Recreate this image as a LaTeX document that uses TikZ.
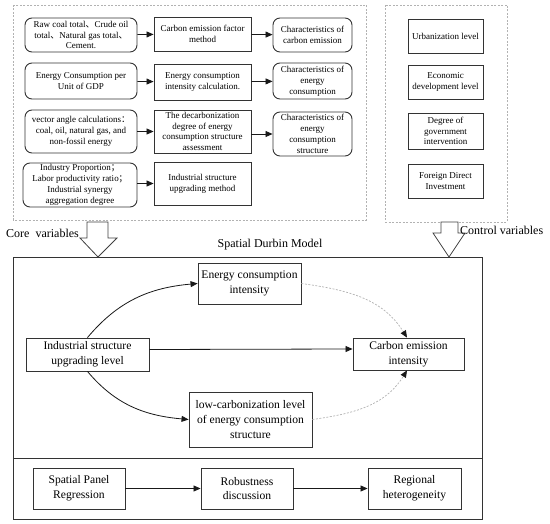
\documentclass[tikz,border=0pt]{standalone}
\usepackage{fontspec}
\setmainfont{Liberation Serif}
\newfontfamily\cjk{Noto Sans CJK SC}
\usetikzlibrary{arrows.meta}
\begin{document}
\begin{tikzpicture}[x=1pt,y=-1pt,
  every node/.style={text=black},
  sbox/.style={draw=black!80, line width=0.9pt, align=center, inner sep=1pt,
    font=\fontsize{9}{10.8}\selectfont},
  rbox/.style={sbox, rounded corners=7pt},
  mbox/.style={sbox, font=\fontsize{11.6}{14.8}\selectfont},
  lab/.style={font=\fontsize{12}{14}\selectfont, inner sep=0pt},
  arr/.style={-{Triangle[length=7pt,width=6pt]}, draw=black!90, line width=0.8pt},
  darr/.style={-{Triangle[length=7pt,width=6pt,color=black!90]}, draw=gray!60, dash pattern=on 2pt off 1.5pt, line width=0.7pt},
  dbox/.style={draw=gray!60, line width=0.7pt, dash pattern=on 2pt off 1.5pt},
  hollow/.style={draw=black!75, fill=white, line width=0.8pt}
]
\useasboundingbox (0,0) rectangle (550,524);

% dashed boxes
\draw[dbox] (13,5) rectangle (366,220);
\draw[dbox] (385,5) rectangle (507,222);

% top-left rows
\node[rbox, minimum width=112pt, minimum height=34pt] (r1a) at (81,35)
  {Raw coal total{\cjk 、}Crude oil\\total{\cjk 、}Natural gas total{\cjk 、}\\Cement.};
\node[sbox, minimum width=97pt, minimum height=34pt] (r1b) at (202.5,34)
  {Carbon emission factor\\method};
\node[rbox, minimum width=79pt, minimum height=34pt] (r1c) at (312.5,35)
  {Characteristics of\\carbon emission};

\node[rbox, minimum width=112pt, minimum height=36pt] (r2a) at (81,81)
  {Energy Consumption per\\Unit of GDP};
\node[sbox, minimum width=97pt, minimum height=36pt] (r2b) at (202.5,82)
  {Energy consumption\\intensity calculation.};
\node[rbox, minimum width=79pt, minimum height=36pt] (r2c) at (312.5,81)
  {Characteristics of\\energy\\consumption};

\node[rbox, minimum width=112pt, minimum height=43pt] (r3a) at (81,131.5)
  {vector angle calculations{\cjk ：}\\coal, oil, natural gas, and\\non-fossil energy};
\node[sbox, minimum width=97pt, minimum height=43pt] (r3b) at (202.5,131.5)
  {The decarbonization\\degree of energy\\consumption structure\\assessment};
\node[rbox, minimum width=79pt, minimum height=44pt] (r3c) at (312.5,134)
  {Characteristics of\\energy\\consumption\\structure};

\node[rbox, minimum width=114pt, minimum height=44pt] (r4a) at (80,185)
  {Industry Proportion{\cjk ；}\\Labor productivity ratio{\cjk ；}\\Industrial synergy\\aggregation degree};
\node[sbox, minimum width=97pt, minimum height=43pt] (r4b) at (202.5,183.5)
  {Industrial structure\\upgrading method};

\draw[arr] (r1a) -- (r1b);
\draw[arr] (r1b) -- (r1c);
\draw[arr] (r2a) -- (r2b);
\draw[arr] (r2b) -- (r2c);
\draw[arr] (r3a) -- (r3b);
\draw[arr] (r3b.east |- r3c) -- (r3c);
\draw[arr] (r4a.east |- r4b) -- (r4b);

% right column
\node[sbox, minimum width=75pt, minimum height=34pt] (c1) at (445.5,36) {Urbanization level};
\node[sbox, minimum width=75pt, minimum height=34pt] (c2) at (445.5,82) {Economic\\development level};
\node[sbox, minimum width=75pt, minimum height=36pt] (c3) at (445.5,131) {Degree of\\government\\intervention};
\node[sbox, minimum width=75pt, minimum height=34pt] (c4) at (445.5,181) {Foreign Direct\\Investment};

% main box
\draw[draw=black!80, line width=0.9pt] (13,257) rectangle (482,519);
\draw[draw=black!80, line width=0.9pt] (13,458) -- (482,458);

% hollow arrows
\draw[hollow] (87,222) -- (108,222) -- (108,238) -- (117,238) -- (98,257) -- (80,238) -- (87,238) -- cycle;
\draw[hollow] (441,222) -- (458,222) -- (458,233) -- (465,233) -- (449,257) -- (433,233) -- (441,233) -- cycle;

% labels
\node[lab, anchor=west] (core) at (6,233) {Core\ \ variables};
\node[lab] (sdm) at (270,245) {Spatial Durbin Model};
\node[lab, anchor=west] (ctrl) at (460,230) {Control variables};

% model nodes
\node[mbox, minimum width=103pt, minimum height=41pt] (en) at (249.5,283.5) {Energy consumption\\intensity};
\node[mbox, minimum width=123pt, minimum height=33pt] (ind) at (87.5,354.5) {Industrial structure\\upgrading level};
\node[mbox, minimum width=111pt, minimum height=32pt] (car) at (408.5,354) {Carbon emission\\intensity};
\node[mbox, minimum width=123pt, minimum height=55pt] (low) at (250.5,419.5) {low-carbonization level\\of energy consumption\\structure};

\draw[arr] (ind.north) to[out=50,in=185] (en.west);
\draw[arr] (ind.south) to[out=-50,in=175] (low.west);
\draw[arr] ([yshift=5pt]ind.east) -- ([yshift=5pt]car.west);
\draw[darr] (en.east) to[out=-8,in=122] ([xshift=-1.5pt]car.north);
\draw[darr] (low.east) to[out=8,in=-122] ([xshift=-1.5pt]car.south);

% bottom row
\node[mbox, minimum width=92pt, minimum height=41pt] (sp) at (79,488.5) {Spatial Panel\\Regression};
\node[mbox, minimum width=92pt, minimum height=41pt] (rb) at (247,488.5) {Robustness\\discussion};
\node[mbox, minimum width=93pt, minimum height=41pt] (rg) at (414.5,488.5) {Regional\\heterogeneity};
\draw[arr] (sp) -- (rb);
\draw[arr] (rb) -- (rg);
\end{tikzpicture}
\end{document}
